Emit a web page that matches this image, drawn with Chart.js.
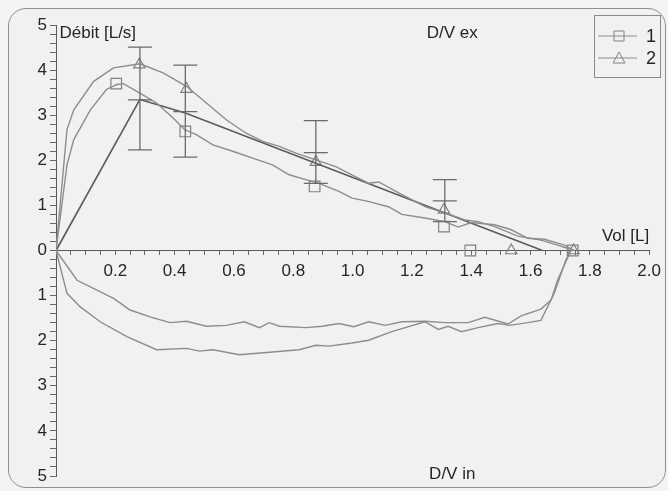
<!DOCTYPE html>
<html>
<head>
<meta charset="utf-8">
<title>D/V</title>
<script src="https://cdn.jsdelivr.net/npm/chart.js"></script>
<style>
    html, body { margin: 0; padding: 0; background: #f4f4f4; }
    .frame {
        position: absolute; left: 8px; top: 8px;
        width: 656px; height: 478px;
        border: 1px solid #8f8f8f; border-radius: 18px;
        background: #f1f1f1;
    }
    .chart-container { position: absolute; left: 0; top: 0; width: 668px; height: 491px; }
</style>
</head>
<body>
<div class="frame"></div>
<div class="chart-container">
    <canvas id="dvChart"></canvas>
</div>

<script>
// expiration, trial 1 (squares)
var expVol1 = [0, 0.037, 0.06, 0.116, 0.17, 0.205, 0.227, 0.283, 0.339, 0.395, 0.434, 0.473, 0.529, 0.596, 0.663, 0.73, 0.786, 0.842, 0.887, 0.954, 0.998, 1.045, 1.121, 1.166, 1.244, 1.311, 1.356, 1.40, 1.479, 1.535, 1.591, 1.647, 1.714, 1.747];
var expFlow1 = [0, 1.9, 2.46, 3.12, 3.57, 3.68, 3.70, 3.49, 3.27, 2.94, 2.68, 2.57, 2.34, 2.2, 2.05, 1.9, 1.68, 1.57, 1.49, 1.31, 1.16, 1.1, 0.97, 0.8, 0.72, 0.64, 0.52, 0.62, 0.57, 0.46, 0.27, 0.25, 0.12, 0];

// expiration, trial 2 (triangles)
var expVol2 = [0, 0.037, 0.06, 0.127, 0.194, 0.283, 0.361, 0.44, 0.507, 0.574, 0.641, 0.697, 0.753, 0.809, 0.876, 0.943, 1.021, 1.045, 1.054, 1.088, 1.157, 1.246, 1.313, 1.378, 1.423, 1.479, 1.557, 1.635, 1.691, 1.747];
var expFlow2 = [0, 2.68, 3.12, 3.75, 4.05, 4.14, 3.94, 3.64, 3.27, 2.90, 2.60, 2.42, 2.31, 2.16, 2.01, 1.86, 1.60, 1.52, 1.49, 1.52, 1.27, 0.97, 0.83, 0.68, 0.64, 0.53, 0.32, 0.23, 0.12, 0];

// inspiration curves (negative flow)
var inspVol1 = [0, 0.071, 0.138, 0.194, 0.25, 0.317, 0.384, 0.44, 0.507, 0.574, 0.635, 0.686, 0.719, 0.753, 0.842, 0.898, 0.954, 1.004, 1.054, 1.11, 1.166, 1.244, 1.311, 1.39, 1.446, 1.524, 1.568, 1.635, 1.669, 1.691, 1.736];
var inspFlow1 = [0, -0.66, -0.88, -1.06, -1.32, -1.47, -1.6, -1.57, -1.68, -1.66, -1.58, -1.71, -1.6, -1.68, -1.71, -1.68, -1.62, -1.69, -1.58, -1.66, -1.58, -1.57, -1.6, -1.6, -1.48, -1.63, -1.45, -1.3, -1.1, -0.66, 0];

var inspVol2 = [0, 0.037, 0.082, 0.149, 0.239, 0.339, 0.44, 0.484, 0.529, 0.618, 0.73, 0.82, 0.876, 0.92, 0.998, 1.054, 1.132, 1.244, 1.289, 1.322, 1.367, 1.423, 1.49, 1.529, 1.591, 1.635, 1.68, 1.719, 1.736];
var inspFlow2 = [0, -0.95, -1.25, -1.58, -1.91, -2.2, -2.17, -2.23, -2.2, -2.31, -2.25, -2.2, -2.1, -2.12, -2.05, -1.99, -1.8, -1.58, -1.75, -1.68, -1.8, -1.71, -1.62, -1.66, -1.6, -1.55, -0.95, -0.21, 0];

// reference (theoretical) curve
var refVol = [0, 0.283, 0.436, 1.64];
var refFlow = [0, 3.35, 3.05, 0];

// error bars on the reference
var barVol = [0.283, 0.436, 0.876, 1.311];
var barLow = [2.23, 2.07, 1.49, 0.64];
var barMid = [3.34, 3.08, 2.17, 1.10];
var barHigh = [4.51, 4.11, 2.88, 1.57];

// markers
var squareVol = [0.203, 0.436, 0.872, 1.308, 1.397, 1.742];
var squareFlow = [3.70, 2.64, 1.42, 0.53, 0, 0];
var triangleVol = [0.281, 0.44, 0.876, 1.308, 1.535, 1.745];
var triangleFlow = [4.12, 3.58, 1.96, 0.9, 0, 0];

var legendLabels = ['1', '2'];

var curveColor = '#8d8d8d';
var refColor = '#5c5c5c';
var textColor = '#262626';

function toPoints(xs, ys) {
    return xs.map(function(v, i) { return {x: v, y: ys[i]}; });
}

function lineSet(xs, ys, color, width) {
    return {
        data: toPoints(xs, ys),
        showLine: true,
        borderColor: color,
        borderWidth: width,
        pointRadius: 0,
        tension: 0
    };
}

function markerSet(xs, ys, style, radius) {
    return {
        data: toPoints(xs, ys),
        showLine: false,
        pointStyle: style,
        pointRadius: radius,
        pointBorderColor: '#808080',
        pointBackgroundColor: 'rgba(0,0,0,0)',
        pointBorderWidth: 1.2
    };
}

var errorBarPlugin = {
    id: 'errorBars',
    afterDatasetsDraw: function(chart) {
        var ctx = chart.ctx;
        var x = chart.scales.x, y = chart.scales.y;
        ctx.save();
        ctx.strokeStyle = '#6a6a6a';
        ctx.lineWidth = 1.3;
        barVol.forEach(function(v, i) {
            var px = x.getPixelForValue(v);
            var lo = y.getPixelForValue(barLow[i]);
            var mid = y.getPixelForValue(barMid[i]);
            var hi = y.getPixelForValue(barHigh[i]);
            ctx.beginPath();
            ctx.moveTo(px, lo);
            ctx.lineTo(px, hi);
            [lo, mid, hi].forEach(function(py) {
                ctx.moveTo(px - 12, py);
                ctx.lineTo(px + 12, py);
            });
            ctx.stroke();
        });
        ctx.restore();
    }
};

var decorPlugin = {
    id: 'decor',
    afterDraw: function(chart) {
        var ctx = chart.ctx;
        var x = chart.scales.x, y = chart.scales.y;
        ctx.save();
        ctx.fillStyle = textColor;
        ctx.font = '17px "Liberation Sans", Arial, sans-serif';
        ctx.textBaseline = 'middle';

        ctx.textAlign = 'left';
        ctx.fillText('Débit [L/s]', x.getPixelForValue(0.012), y.getPixelForValue(4.81));
        ctx.textAlign = 'center';
        ctx.fillText('D/V ex', x.getPixelForValue(1.336), y.getPixelForValue(4.81));
        ctx.fillText('D/V in', x.getPixelForValue(1.336), y.getPixelForValue(-4.97));
        ctx.textAlign = 'right';
        ctx.fillText('Vol [L]', x.getPixelForValue(2.0), y.getPixelForValue(0.32));

        // legend box
        var bx = 594, by = 15, bw = 66, bh = 62;
        ctx.strokeStyle = '#8a8a8a';
        ctx.lineWidth = 1;
        ctx.strokeRect(bx + 0.5, by + 0.5, bw, bh);
        ctx.font = '18px "Liberation Sans", Arial, sans-serif';
        legendLabels.forEach(function(label, i) {
            var ly = by + 21 + i * 22;
            ctx.strokeStyle = '#8d8d8d';
            ctx.beginPath();
            ctx.moveTo(bx + 4, ly);
            ctx.lineTo(bx + 43, ly);
            ctx.stroke();
            ctx.strokeStyle = '#808080';
            ctx.beginPath();
            if (i === 0) {
                ctx.rect(bx + 20, ly - 5, 10, 10);
            } else {
                ctx.moveTo(bx + 25, ly - 6);
                ctx.lineTo(bx + 31, ly + 5);
                ctx.lineTo(bx + 19, ly + 5);
                ctx.closePath();
            }
            ctx.stroke();
            ctx.fillStyle = textColor;
            ctx.textAlign = 'right';
            ctx.fillText(label, bx + bw - 4, ly + 1);
        });
        ctx.restore();
    }
};

Chart.defaults.font.family = '"Liberation Sans", Arial, sans-serif';
Chart.defaults.font.size = 17;
Chart.defaults.color = textColor;

var dvChart = new Chart(document.getElementById('dvChart'), {
    type: 'scatter',
    data: {
        datasets: [
            lineSet(expVol1, expFlow1, curveColor, 1.4),
            lineSet(expVol2, expFlow2, curveColor, 1.4),
            lineSet(inspVol1, inspFlow1, curveColor, 1.4),
            lineSet(inspVol2, inspFlow2, curveColor, 1.4),
            lineSet(refVol, refFlow, refColor, 1.7),
            markerSet(squareVol, squareFlow, 'rect', 7.5),
            markerSet(triangleVol, triangleFlow, 'triangle', 6.5)
        ]
    },
    options: {
        responsive: true,
        maintainAspectRatio: false,
        animation: false,
        layout: { padding: { left: 0, top: 25, right: 16, bottom: 15 } },
        plugins: { legend: { display: false }, tooltip: { enabled: false } },
        scales: {
            x: {
                type: 'linear',
                position: { y: 0 },
                min: 0,
                max: 2,
                border: { display: true, color: '#5a5a5a', width: 1 },
                grid: { drawOnChartArea: false, drawTicks: true, tickLength: 4, color: '#6a6a6a' },
                ticks: {
                    stepSize: 0.05,
                    autoSkip: false,
                    maxRotation: 0,
                    padding: 7,
                    callback: function(v) {
                        var r = Math.round(v * 100);
                        if (r === 0 || r % 20 !== 0) return '';
                        return (r / 100).toFixed(1);
                    }
                }
            },
            y: {
                type: 'linear',
                min: -5,
                max: 5,
                border: { display: true, color: '#5a5a5a', width: 1 },
                grid: { drawOnChartArea: false, drawTicks: true, tickLength: 6, color: '#6a6a6a' },
                afterFit: function(scale) { scale.width = 56; },
                ticks: {
                    stepSize: 0.2,
                    autoSkip: false,
                    padding: 3,
                    callback: function(v) {
                        var r = Math.round(v * 10);
                        if (r % 10 !== 0) return '';
                        return String(Math.abs(r / 10));
                    }
                }
            }
        }
    },
    plugins: [errorBarPlugin, decorPlugin]
});
</script>
</body>
</html>
